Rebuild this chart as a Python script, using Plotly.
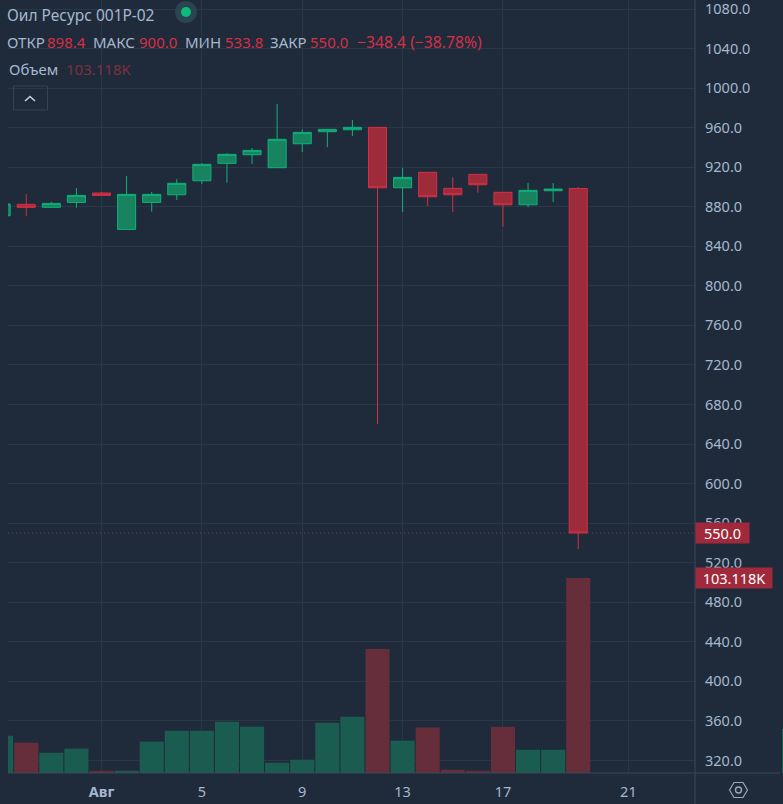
import plotly.graph_objects as go

# candle index, 0 = 29 Jul; the first one is cut off by the left edge
candle_idx = list(range(-1, 23))
opens = [870.9, 882.4, 879.4, 884.4, 893.9, 857.1, 884.4, 892.1, 906.3, 923.9, 932.6, 919.5,
         943.7, 955.9, 957.9, 960.3, 899.2, 914.8, 898.6, 912.8, 894.6, 882.0, 896.2, 898.4]
highs = [882.7, 892.8, 885.0, 898.9, 895.2, 911.0, 894.9, 908.0, 924.2, 934.3, 939.4, 983.9,
         958.3, 958.3, 967.7, 960.3, 919.1, 914.8, 910.0, 912.8, 894.6, 904.0, 904.0, 900.0]
lows = [870.9, 870.9, 879.4, 879.0, 891.5, 857.1, 875.0, 886.8, 902.9, 904.3, 923.2, 919.5,
        935.3, 940.3, 951.5, 660.2, 874.6, 880.7, 874.6, 894.2, 859.8, 879.7, 884.7, 533.8]
closes = [882.7, 879.4, 883.4, 891.5, 891.5, 892.5, 892.5, 903.7, 922.9, 933.0, 937.0, 948.2,
          955.2, 958.3, 960.3, 899.2, 909.7, 890.1, 892.1, 902.2, 882.0, 896.6, 897.9, 550.0]
# volume in thousands
volumes = [19.7, 16.0, 10.7, 12.9, 1.2, 1.2, 16.6, 22.4, 22.4, 27.1, 24.5, 5.4,
           7.0, 26.6, 29.8, 65.6, 17.1, 24.0, 1.7, 1.2, 24.5, 12.3, 12.3, 103.118]

price_ticks = list(range(320, 1081, 40))
time_tick_idx = [3, 7, 11, 15, 19, 24]
time_tick_text = ["<b>Авг</b>", "5", "9", "13", "17", "21"]

last_price = 550.0
last_volume = 103.118

BG = "#1f2b3a"
GRID = "#2a3745"
AXIS = "#3b4959"
TEXT = "#a6b8d0"
UP_LINE = "#0fb27a"
UP_FILL = "#17835f"
DOWN_LINE = "#d62f45"
DOWN_FILL = "#9e2b3a"
VOL_UP = "#1a5c50"
VOL_DOWN = "#662e3a"
LABEL_RED = "#a02a3b"
FONT = "Noto Sans"

# plot area in pixels
LEFT, RIGHT, BOTTOM = 8, 695, 773
W, H = 783, 804


def px(x):
    return (x - LEFT) / (RIGHT - LEFT)


def py(y):
    return (BOTTOM - y) / BOTTOM


def path(points, close=False):
    s = "M " + " L ".join(f"{px(x):.5f},{py(y):.5f}" for x, y in points)
    return s + (" Z" if close else "")


vol_colors = [VOL_UP if c >= o else VOL_DOWN for o, c in zip(opens, closes)]

fig = go.Figure()
fig.add_trace(go.Bar(x=candle_idx, y=volumes, yaxis="y2", marker=dict(color=vol_colors, line_width=0),
                     hoverinfo="skip"))
fig.add_trace(go.Candlestick(x=candle_idx, open=opens, high=highs, low=lows, close=closes, yaxis="y",
                             whiskerwidth=0,
                             increasing=dict(line=dict(color=UP_LINE, width=1), fillcolor=UP_FILL),
                             decreasing=dict(line=dict(color=DOWN_LINE, width=1), fillcolor=DOWN_FILL)))
# dotted last price line
fig.add_trace(go.Scatter(x=[-0.727, 26.654], y=[last_price, last_price], mode="lines", yaxis="y",
                         line=dict(color="#7a3a48", width=1, dash="1px,3px"), hoverinfo="skip"))

shapes = [
    # axis borders run past the plot area
    dict(type="line", xref="paper", yref="paper", x0=px(8), x1=px(780), y0=py(773), y1=py(773),
         line=dict(color=AXIS, width=1)),
    dict(type="line", xref="paper", yref="paper", x0=px(695), x1=px(695), y0=py(0), y1=py(804),
         line=dict(color=AXIS, width=1)),
    # status dot
    dict(type="circle", xref="paper", yref="paper", x0=px(175), x1=px(197), y0=py(1), y1=py(23),
         fillcolor="#2a4450", line_width=0),
    dict(type="circle", xref="paper", yref="paper", x0=px(181), x1=px(191), y0=py(7), y1=py(17),
         fillcolor="#0ebb78", line_width=0),
    # collapse button
    dict(type="rect", xref="paper", yref="paper", x0=px(13.5), x1=px(47.5), y0=py(86), y1=py(110),
         line=dict(color="#38414f", width=1)),
    dict(type="path", xref="paper", yref="paper", path=path([(25, 101), (30, 96.5), (35, 101)]),
         line=dict(color="#c8d0da", width=1.6)),
    # settings hexagon
    dict(type="path", xref="paper", yref="paper",
         path=path([(729.5, 790), (734, 782.5), (743, 782.5), (747.5, 790), (743, 797.5), (734, 797.5)], True),
         line=dict(color="#9aa8b8", width=1.2)),
    dict(type="circle", xref="paper", yref="paper", x0=px(735.5), x1=px(741.5), y0=py(787), y1=py(793),
         line=dict(color="#9aa8b8", width=1.4)),
    # sliver of the next bar at the window edge
    dict(type="rect", xref="paper", yref="paper", x0=px(782), x1=px(783), y0=py(729), y1=py(773),
         fillcolor=VOL_UP, line_width=0),
]


def label(x, y, text, color, size=15.5):
    return dict(xref="paper", yref="paper", x=px(x), y=py(y), xanchor="left", yanchor="middle", text=text,
                showarrow=False, align="left", font=dict(family=FONT, size=size, color=color))


annotations = [
    label(5, 15, "Оил Ресурс 001Р-02", TEXT),
    label(5, 42, "ОТКР", TEXT, 15),
    label(45, 42, "898.4", DOWN_LINE, 15),
    label(91, 42, "МАКС", TEXT, 15),
    label(137, 42, "900.0", DOWN_LINE, 15),
    label(183, 42, "МИН", TEXT, 15),
    label(223, 42, "533.8", DOWN_LINE, 15),
    label(268, 42, "ЗАКР", TEXT, 15),
    label(308, 42, "550.0", DOWN_LINE, 15),
    label(355, 42, "−348.4 (−38.78%)", DOWN_LINE, 15.7),
    label(7, 69, "Объем", TEXT, 15),
    label(64, 69, "103.118K", "#7f2f3d", 15),
    dict(xref="paper", yref="y", x=1, y=last_price, xanchor="left", yanchor="middle",
         text=f"{last_price:.1f}", showarrow=False, bgcolor=LABEL_RED, width=53, height=20,
         borderpad=0, font=dict(family=FONT, size=14.5, color="#ffffff")),
    dict(xref="paper", yref="y2", x=1, y=last_volume, xanchor="left", yanchor="middle",
         text=f"{last_volume:.3f}K", showarrow=False, bgcolor=LABEL_RED, width=76, height=20,
         borderpad=0, font=dict(family=FONT, size=14.5, color="#ffffff")),
]

fig.update_layout(
    width=W, height=H, margin=dict(l=LEFT, r=W - RIGHT, t=0, b=H - BOTTOM, autoexpand=False),
    paper_bgcolor=BG, plot_bgcolor=BG, showlegend=False, bargap=0.04, boxgap=0.28, boxgroupgap=0,
    font=dict(family=FONT, size=14.5, color=TEXT),
    xaxis=dict(range=[-0.727, 26.654], tickmode="array", tickvals=time_tick_idx, ticktext=time_tick_text,
               showgrid=True, gridcolor=GRID, gridwidth=1, zeroline=False, showline=False, ticks="",
               rangeslider=dict(visible=False), ticklabelstandoff=8),
    yaxis=dict(range=[307.3, 1089.1], side="right", tickmode="array", tickvals=price_ticks,
               ticktext=[f"{t:.1f}" for t in price_ticks], showgrid=True, gridcolor=GRID, gridwidth=1,
               zeroline=False, showline=False, ticks="", ticklabelstandoff=9, ticklabeloverflow="allow"),
    yaxis2=dict(range=[0, last_volume * BOTTOM / 195], overlaying="y", side="left", visible=False,
                showgrid=False, zeroline=False),
    shapes=shapes, annotations=annotations,
)

fig.write_html("out.html", config=dict(displayModeBar=False),
               post_script="document.body.style.margin='0';document.body.style.background='%s';" % BG)
